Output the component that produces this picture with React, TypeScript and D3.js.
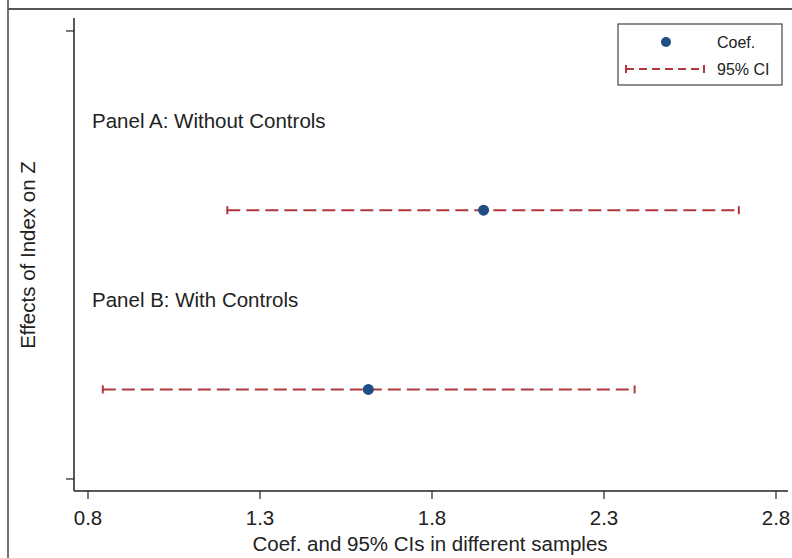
import React from 'react'
import * as d3 from 'd3'

// panels, top to bottom
const panelLabels = ['Panel A: Without Controls', 'Panel B: With Controls']
const labelRows = [4, 2]
const estRows = [3, 1]
const coefs = [1.95, 1.615]
const ciLow = [1.205, 0.843]
const ciHigh = [2.692, 2.389]

const xTicks = [0.8, 1.3, 1.8, 2.3, 2.8]
const yTicks = [0, 5]

const width = 792
const height = 558
const font = '"Liberation Sans", Arial, sans-serif'
const navy = '#1f4e85'
const red = '#b0383c'

const App = () => {
  const x = d3.scaleLinear().domain([0.8, 2.8]).range([88, 776])
  const y = d3.scaleLinear().domain([0, 5]).range([479, 31])
  const axisY = 491
  const axisX = 74

  return (
    <svg width={width} height={height} style={{ position: 'absolute', left: 0, top: 0, background: '#fff' }}>
      {/* outer frame */}
      <line x1={8} y1={0} x2={8} y2={height} stroke="#444" strokeWidth={1.5} />
      <line x1={8} y1={9} x2={width} y2={9} stroke="#555" strokeWidth={2} />

      {/* axes */}
      <line x1={axisX} y1={18} x2={axisX} y2={axisY} stroke="#222" strokeWidth={1.5} />
      <line x1={axisX} y1={axisY} x2={788} y2={axisY} stroke="#222" strokeWidth={1.5} />
      {yTicks.map(t => (
        <line key={t} x1={axisX - 8} x2={axisX} y1={y(t)} y2={y(t)} stroke="#222" strokeWidth={1.2} />
      ))}
      {xTicks.map(t => (
        <g key={t}>
          <line x1={x(t)} x2={x(t)} y1={axisY} y2={axisY + 8} stroke="#222" strokeWidth={1.2} />
          <text x={x(t)} y={517} textAnchor="middle" dominantBaseline="central"
            fontFamily={font} fontSize={20.5} fill="#222">{d3.format('.1f')(t)}</text>
        </g>
      ))}
      <text x={430} y={543} textAnchor="middle" dominantBaseline="central"
        fontFamily={font} fontSize={20.5} fill="#222">Coef. and 95% CIs in different samples</text>
      <text transform={`translate(27,255) rotate(-90)`} textAnchor="middle" dominantBaseline="central"
        fontFamily={font} fontSize={20.5} fill="#222">Effects of Index on Z</text>

      {/* panel labels */}
      {panelLabels.map((l, i) => (
        <text key={l} x={92} y={y(labelRows[i])} dominantBaseline="central"
          fontFamily={font} fontSize={20.5} fill="#222">{l}</text>
      ))}

      {/* CIs and coefs */}
      {coefs.map((c, i) => {
        const yy = y(estRows[i])
        return (
          <g key={i}>
            <line x1={x(ciLow[i])} x2={x(ciHigh[i])} y1={yy} y2={yy} stroke={red} strokeWidth={2}
              strokeDasharray="13,6" />
            <line x1={x(ciLow[i])} x2={x(ciLow[i])} y1={yy - 4} y2={yy + 4} stroke={red} strokeWidth={2} />
            <line x1={x(ciHigh[i])} x2={x(ciHigh[i])} y1={yy - 4} y2={yy + 4} stroke={red} strokeWidth={2} />
            <circle cx={x(c)} cy={yy} r={5.5} fill={navy} />
          </g>
        )
      })}

      {/* legend */}
      <rect x={618} y={24} width={164} height={61} fill="#fff" stroke="#444" strokeWidth={1.2} />
      <circle cx={666} cy={42} r={5} fill={navy} />
      <text x={717} y={42} dominantBaseline="central" fontFamily={font} fontSize={16} fill="#222">Coef.</text>
      <line x1={626} x2={704} y1={69} y2={69} stroke={red} strokeWidth={2} strokeDasharray="8,5" />
      <line x1={626} x2={626} y1={65} y2={73} stroke={red} strokeWidth={2} />
      <line x1={704} x2={704} y1={65} y2={73} stroke={red} strokeWidth={2} />
      <text x={717} y={69} dominantBaseline="central" fontFamily={font} fontSize={16} fill="#222">95% CI</text>
    </svg>
  )
}

export default App
